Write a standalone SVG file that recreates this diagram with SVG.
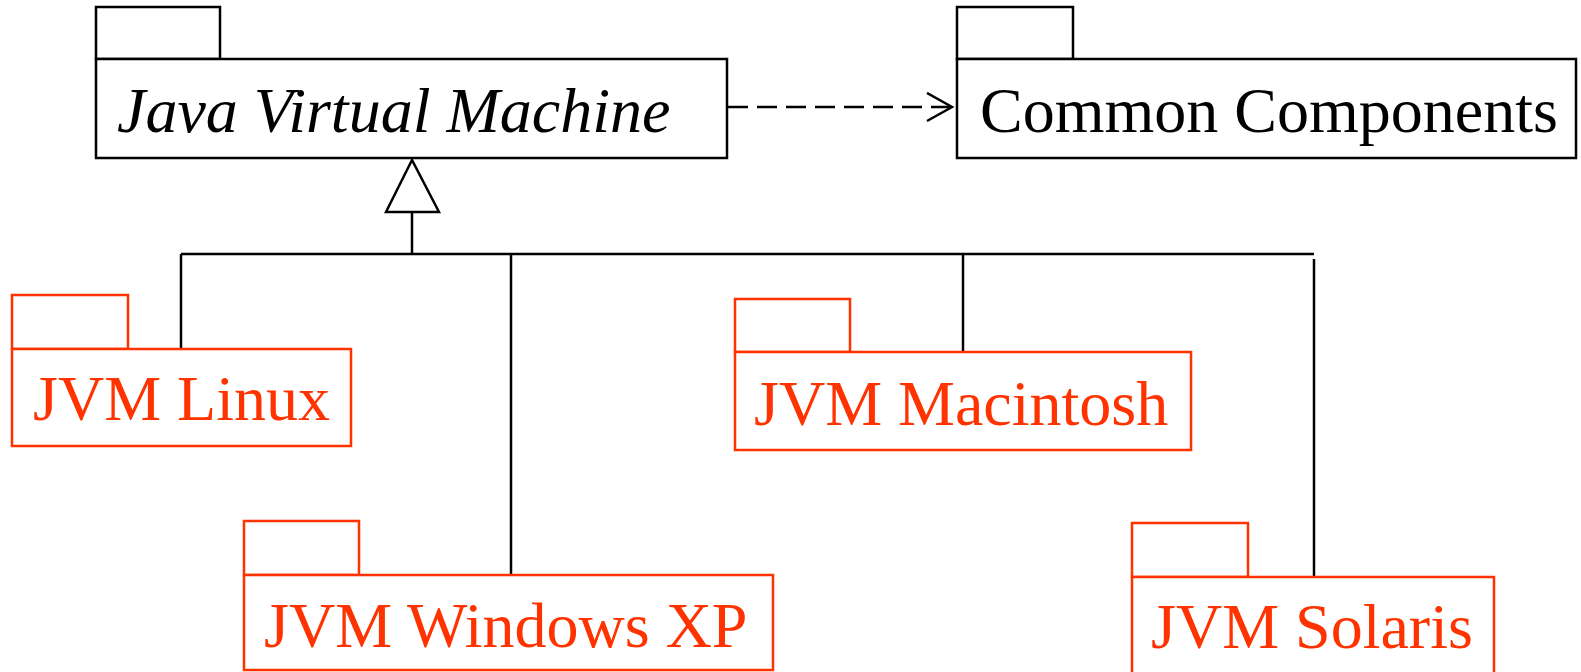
<svg xmlns="http://www.w3.org/2000/svg" width="1581" height="672" viewBox="0 0 1581 672">
<style>
.pk{fill:#fff;stroke:#000;stroke-width:2.5}
.pr{fill:#fff;stroke:#ff3300;stroke-width:2.5}
.t{font-family:"Liberation Serif","Times New Roman",serif;font-size:64px;fill:#000}
.tr{font-family:"Liberation Serif","Times New Roman",serif;font-size:64px;fill:#ff3300}
.ln{fill:none;stroke:#000;stroke-width:2.5}
</style>
<defs>
<marker id="open" markerWidth="30" markerHeight="32" refX="26" refY="15" orient="auto" markerUnits="userSpaceOnUse">
<path d="M1,1 L26,15 L1,29" fill="none" stroke="#000" stroke-width="2.5"/>
</marker>
</defs>
<rect width="1581" height="672" fill="#fff"/>
<g id="connectors">
<line class="ln" x1="728" y1="107" x2="952" y2="107" stroke-dasharray="20,9" marker-end="url(#open)"/>
<polygon points="412,160 386,212 439,212" fill="#fff" stroke="#000" stroke-width="2.5"/>
<line class="ln" x1="412" y1="212" x2="412" y2="254"/>
<line class="ln" x1="181" y1="254" x2="1314" y2="254"/>
<line class="ln" x1="181" y1="254" x2="181" y2="349"/>
<line class="ln" x1="511" y1="254" x2="511" y2="575"/>
<line class="ln" x1="963" y1="254" x2="963" y2="352"/>
<line class="ln" x1="1314" y1="259" x2="1314" y2="577"/>
</g>
<g id="jvm">
<rect class="pk" x="96" y="7" width="124" height="52"/>
<rect class="pk" x="96" y="59" width="631" height="99"/>
<text class="t" x="117" y="132" font-style="italic">Java Virtual Machine</text>
</g>
<g id="common">
<rect class="pk" x="957" y="7" width="116" height="52"/>
<rect class="pk" x="957" y="59" width="619" height="99"/>
<text class="t" x="980" y="132">Common Components</text>
</g>
<g id="linux">
<rect class="pr" x="12" y="295" width="116" height="54"/>
<rect class="pr" x="12" y="349" width="339" height="97"/>
<text class="tr" x="33" y="420">JVM Linux</text>
</g>
<g id="windows">
<rect class="pr" x="244" y="521" width="115" height="54"/>
<rect class="pr" x="244" y="575" width="529" height="95"/>
<text class="tr" x="264" y="647">JVM Windows XP</text>
</g>
<g id="macintosh">
<rect class="pr" x="735" y="299" width="115" height="53"/>
<rect class="pr" x="735" y="352" width="456" height="98"/>
<text class="tr" x="754" y="425">JVM Macintosh</text>
</g>
<g id="solaris">
<rect class="pr" x="1132" y="523" width="116" height="54"/>
<rect class="pr" x="1132" y="577" width="362" height="100"/>
<text class="tr" x="1151" y="648">JVM Solaris</text>
</g>
</svg>
